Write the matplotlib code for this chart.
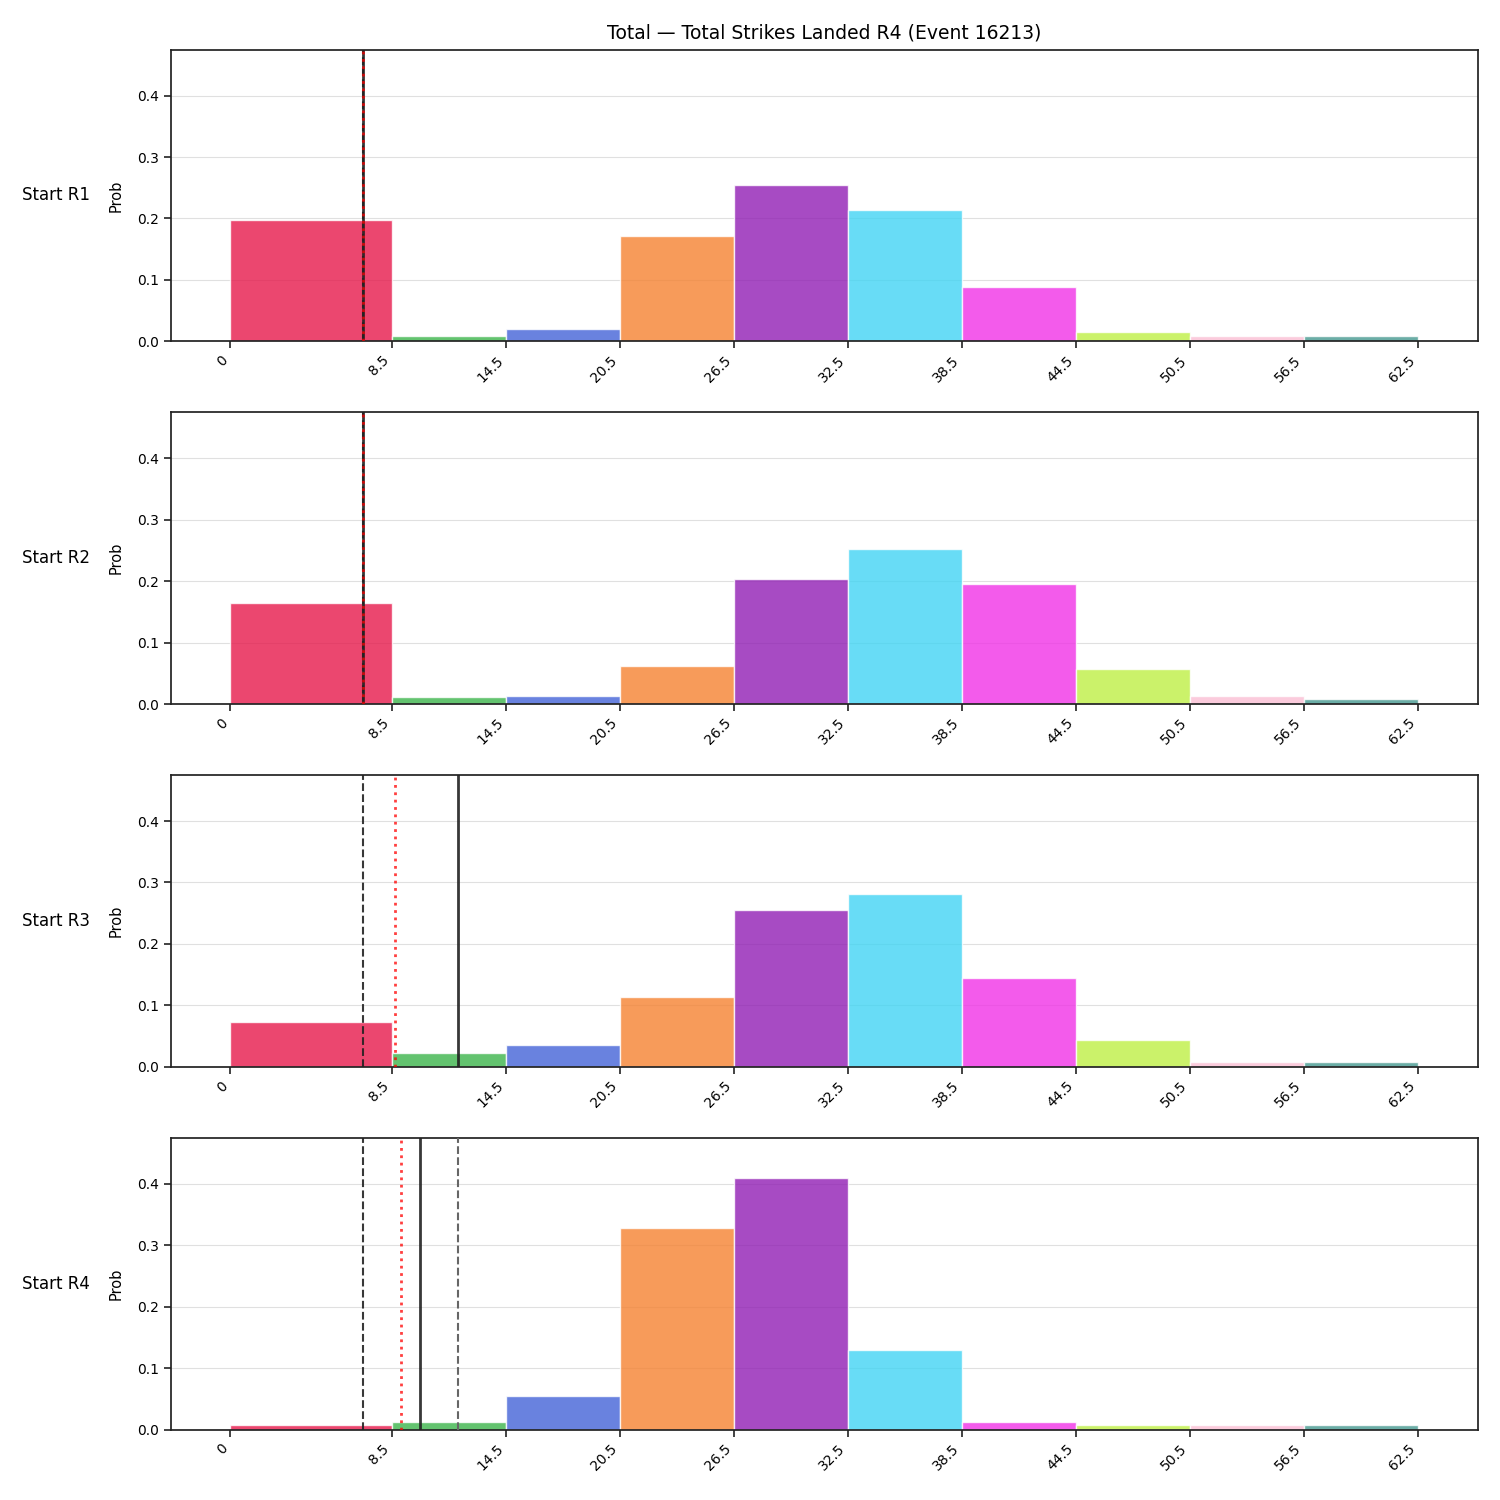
import matplotlib
matplotlib.use("Agg")
import matplotlib.pyplot as plt
import numpy as np

edges = [0, 8.5, 14.5, 20.5, 26.5, 32.5, 38.5, 44.5, 50.5, 56.5, 62.5]
tick_labels = ["0", "8.5", "14.5", "20.5", "26.5", "32.5", "38.5", "44.5", "50.5", "56.5", "62.5"]
colors = ["#e6194b", "#3cb44b", "#4363d8", "#f58231", "#911eb4",
          "#42d4f4", "#f032e6", "#bfef45", "#fabed4", "#469990"]

rows = ["Start R1", "Start R2", "Start R3", "Start R4"]
probs = [
    [0.198, 0.008, 0.020, 0.172, 0.254, 0.213, 0.088, 0.015, 0.008, 0.008],
    [0.164, 0.011, 0.013, 0.062, 0.203, 0.252, 0.195, 0.057, 0.013, 0.008],
    [0.073, 0.023, 0.036, 0.114, 0.255, 0.281, 0.145, 0.044, 0.008, 0.008],
    [0.008, 0.013, 0.055, 0.328, 0.410, 0.130, 0.013, 0.008, 0.008, 0.008],
]
current = [7, 7, 7, 7]          # black dashed
expected = [7, 7, 8.65, 9.0]    # red dotted
line_val = [7, 7, 12, 10]       # solid black
other_val = [None, None, None, 12]  # grey dashed

title = "Total — Total Strikes Landed R4 (Event 16213)"

fig, axes = plt.subplots(4, 1, figsize=(15, 15), dpi=100)
fig.subplots_adjust(left=0.114, right=0.985, top=0.967, bottom=0.047, hspace=0.243)

lefts = np.array(edges[:-1])
widths = np.diff(edges)
for i, ax in enumerate(axes):
    ax.bar(lefts, probs[i], width=widths, align="edge", color=colors,
           alpha=0.8, edgecolor="white", linewidth=1, zorder=2)
    ax.axvline(current[i], color="#222222", linestyle="--", linewidth=1.5, alpha=0.9, zorder=3)
    ax.axvline(expected[i], color="red", linestyle=":", linewidth=2, alpha=0.75, zorder=4)
    ax.axvline(line_val[i], color="#222222", linestyle="-", linewidth=2, alpha=0.9, zorder=3)
    if other_val[i] is not None:
        ax.axvline(other_val[i], color="#666666", linestyle="--", linewidth=1.5, zorder=3)
    ax.set_ylim(0, 0.475)
    ax.set_xlim(-3.125, 65.625)
    ax.set_xticks(edges)
    ax.set_xticklabels(tick_labels, rotation=45, ha="right", fontsize=10)
    ax.set_yticks([0, 0.1, 0.2, 0.3, 0.4])
    ax.set_yticklabels(["0.0", "0.1", "0.2", "0.3", "0.4"], fontsize=10)
    ax.tick_params(length=5, width=1.2, color="#222222")
    ax.grid(axis="y", color="#e0e0e0", linewidth=0.8, zorder=0)
    ax.set_axisbelow(True)
    for s in ax.spines.values():
        s.set_linewidth(1.25)
        s.set_color("#222222")
    ax.set_ylabel("Prob", fontsize=10.5, labelpad=10)
    ax.text(-0.062, 0.5, rows[i], transform=ax.transAxes, ha="right", va="center", fontsize=12)

axes[0].set_title(title, fontsize=13.5, pad=8)
fig.savefig("out.png", dpi=100)
